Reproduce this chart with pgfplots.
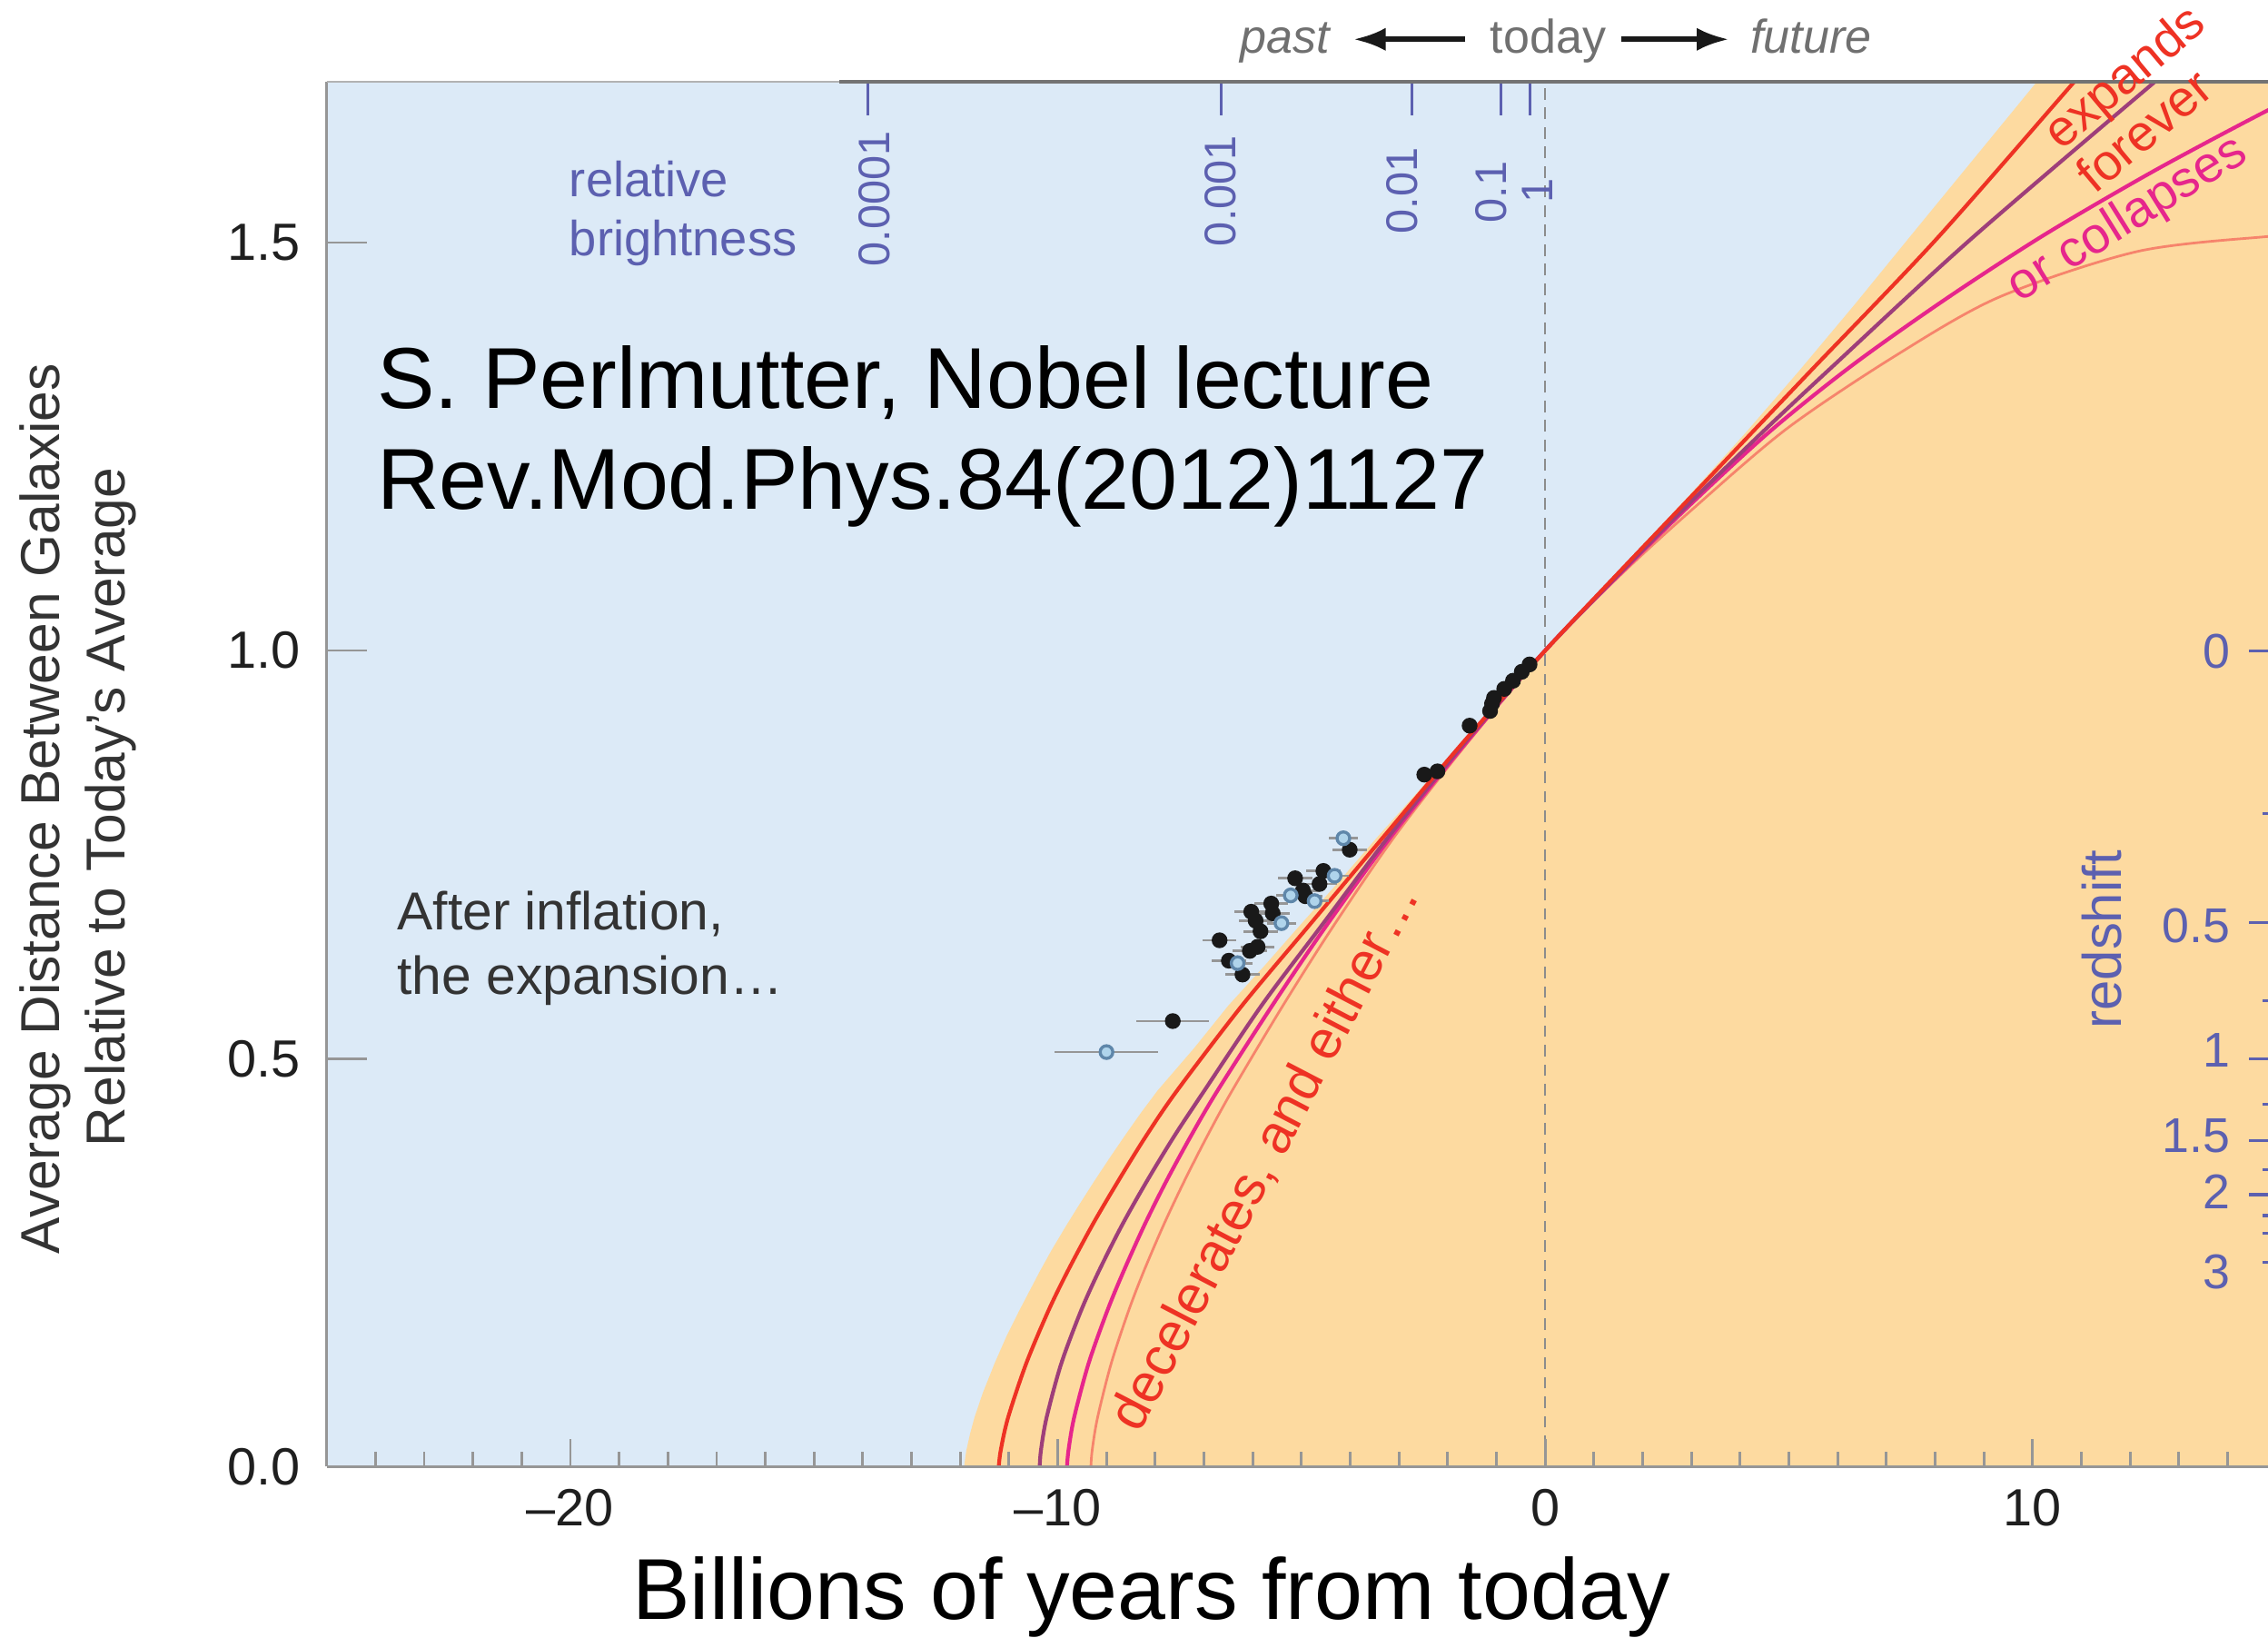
\documentclass[border=0pt]{standalone}
\usepackage{pgfplots}
\pgfplotsset{compat=1.18}
\usepackage{fontspec}
\setmainfont{Liberation Sans}
\usetikzlibrary{arrows.meta}
\definecolor{bgblue}{RGB}{220,234,247}
\definecolor{sand}{RGB}{253,218,160}
\definecolor{cred}{RGB}{238,50,36}
\definecolor{cpurple}{RGB}{158,62,122}
\definecolor{cmagenta}{RGB}{230,38,140}
\definecolor{csalmon}{RGB}{246,132,108}
\definecolor{bblue}{RGB}{92,96,176}
\definecolor{agray}{RGB}{150,150,150}
\definecolor{tgray}{RGB}{112,112,112}
\definecolor{openfill}{RGB}{175,212,235}
\definecolor{openedge}{RGB}{95,135,170}
\newcommand{\fs}[1]{\fontsize{#1}{#1}\selectfont}
\begin{document}
\begin{tikzpicture}
\useasboundingbox (0,0) rectangle (156.8mm,113.2mm);
\begin{axis}[
  name=ax,
  at={(22.58mm,11.82mm)}, anchor=south west,
  scale only axis, width=134.22mm, height=95.73mm,
  xmin=-25, xmax=14.83, ymin=0, ymax=1.697,
  axis line style={draw=none},
  axis background/.style={fill=bgblue},
  axis on top,
  xtick={-20,-10,0,10}, xticklabels={–20,–10,0,10},
  minor xtick={-24,-23,...,14},
  ytick={0,0.5,1,1.5}, yticklabels={0.0,0.5,1.0,1.5},
  tick align=inside, xtick pos=bottom, ytick pos=left,
  major tick length=1.9mm, minor tick length=1.05mm,
  ytick style={/pgfplots/major tick length=2.77mm},
  tick style={agray, line width=0.5pt},
  ticklabel style={font=\fs{10.3}, text=black!88},
  xticklabel shift=0.3mm,
  yticklabel shift=0.6mm,
]
% orange region
\addplot[fill=sand, draw=none] coordinates {
(-11.92,0) (-11.90,0.01) (-11.875,0.02) (-11.80,0.04) (-11.71,0.06) (-11.54,0.09) (-11.30,0.126)
(-11.05,0.16) (-10.80,0.19) (-10.38,0.238) (-10.13,0.265) (-9.83,0.295) (-9.57,0.32) (-9.26,0.349)
(-8.95,0.377) (-8.63,0.405) (-8.30,0.433) (-7.95,0.461) (-7.2,0.513) (-6.5,0.565) (-5.77,0.613)
(-5.05,0.662) (-4.23,0.717) (-3.42,0.773) (-2.58,0.829) (-1.76,0.885) (-0.87,0.942) (0,1)
(1.5,1.097) (3.0,1.193) (4.1,1.266) (5.2,1.342) (6.35,1.424) (7.51,1.509) (8.8,1.603)
(10.13,1.7) (10.6,1.735) (16,1.8) (16,0)} \closedcycle;
% dashed today line
\draw[black!45, line width=0.45pt, dash pattern=on 0.8mm off 0.55mm] (axis cs:0,0) -- (axis cs:0,1.697);
% curves
\addplot[csalmon, line width=0.5pt, smooth] coordinates {
(-9.32,0) (-9.294,0.02) (-9.184,0.06) (-8.906,0.126) (-8.553,0.19) (-8.245,0.238) (-7.837,0.295)
(-7.411,0.349) (-6.934,0.405) (-6.42,0.461) (-5.38,0.565) (-4.35,0.662) (-3.08,0.773) (-1.62,0.885) (0,1)
(1.5,1.09) (3.0,1.172) (4.96,1.272) (7.18,1.361) (9.31,1.433) (12.15,1.489) (14.76,1.507) (15.5,1.508)};
\addplot[cmagenta, line width=0.75pt, smooth] coordinates {
(-9.81,0) (-9.78,0.02) (-9.665,0.06) (-9.37,0.126) (-8.99,0.19) (-8.66,0.238) (-8.23,0.295)
(-7.78,0.349) (-7.27,0.405) (-6.72,0.461) (-5.6,0.565) (-4.5,0.662) (-3.15,0.773) (-1.65,0.885) (0,1)
(1.5,1.092) (3.0,1.18) (4.64,1.27) (6.31,1.35) (8.2,1.43) (10.23,1.509) (12.5,1.588) (14.76,1.66) (15.5,1.68)};
\addplot[cpurple, line width=0.75pt, smooth] coordinates {
(-10.37,0) (-10.345,0.02) (-10.23,0.06) (-9.93,0.126) (-9.53,0.19) (-9.17,0.238) (-8.69,0.295)
(-8.18,0.349) (-7.61,0.405) (-6.99,0.461) (-5.82,0.565) (-4.6,0.662) (-3.2,0.773) (-1.68,0.885) (0,1)
(1.5,1.093) (3.0,1.183) (4.5,1.27) (5.93,1.35) (8.75,1.505) (12.57,1.7) (13.2,1.73)};
\addplot[cred, line width=0.75pt, smooth] coordinates {
(-11.21,0) (-11.17,0.02) (-11.02,0.06) (-10.65,0.126) (-10.2,0.19) (-9.81,0.238) (-9.30,0.295)
(-8.77,0.349) (-8.19,0.405) (-7.55,0.461) (-6.22,0.565) (-4.86,0.662) (-3.3,0.773) (-1.72,0.885) (0,1)
(1.5,1.095) (3.0,1.189) (4.32,1.272) (5.5,1.346) (8.04,1.505) (10.9,1.7) (11.5,1.74)};
% data points
\addplot[only marks, mark=*, mark size=1.35pt, mark options={fill=black!90, draw=black!90},
  error bars/.cd, x dir=both, x explicit, error mark=none,
  error bar style={agray, line width=0.5pt}] coordinates {
(-4.01,0.756) +- (0.35,0) (-4.55,0.730) +- (0.35,0) (-4.63,0.714) +- (0.35,0)
(-5.13,0.721) +- (0.35,0) (-4.97,0.706) +- (0.35,0) (-4.92,0.699) +- (0.35,0)
(-5.62,0.690) +- (0.35,0) (-5.59,0.678) +- (0.35,0) (-6.03,0.680) +- (0.35,0)
(-5.94,0.669) +- (0.35,0) (-5.84,0.656) +- (0.35,0) (-6.68,0.645) +- (0.35,0)
(-5.90,0.637) +- (0.35,0) (-6.06,0.632) +- (0.35,0) (-6.49,0.620) +- (0.35,0)
(-6.21,0.603) +- (0.35,0) (-7.64,0.546) +- (0.74,0)};
\addplot[only marks, mark=*, mark size=1.25pt, mark options={fill=openfill, draw=openedge, line width=0.6pt},
  error bars/.cd, x dir=both, x explicit, error mark=none,
  error bar style={agray, line width=0.5pt}] coordinates {
(-4.14,0.770) +- (0.3,0) (-4.32,0.724) +- (0.3,0) (-5.22,0.700) +- (0.3,0)
(-4.73,0.693) +- (0.3,0) (-5.41,0.666) +- (0.3,0) (-6.31,0.617) +- (0.3,0)
(-9.0,0.508) +- (1.06,0)};
\addplot[only marks, mark=*, mark size=1.35pt, mark options={fill=black!90, draw=black!90}] coordinates {
(-0.32,0.983) (-0.48,0.974) (-0.66,0.963) (-0.84,0.953) (-1.05,0.942) (-1.09,0.935)
(-1.13,0.926) (-1.55,0.908) (-2.21,0.852) (-2.48,0.848)};
% brightness ticks
\foreach \bx in {-13.89,-6.64,-2.73,-0.91,-0.31} {
  \edef\tmp{\noexpand\draw[bblue, line width=0.55pt] (axis cs:\bx,1.697) -- (axis cs:\bx,1.656);}\tmp
}
% redshift ticks
\foreach \ry in {1,0.6667,0.5,0.4,0.3333} {
  \edef\tmp{\noexpand\draw[bblue, line width=0.55pt] (axis cs:14.44,\ry) -- (axis cs:15,\ry);}\tmp
}
\foreach \ry in {0.8,0.5714,0.4444,0.3636,0.3077,0.2857,0.25} {
  \edef\tmp{\noexpand\draw[bblue, line width=0.55pt] (axis cs:14.72,\ry) -- (axis cs:15,\ry);}\tmp
}
\end{axis}
% frame lines
\draw[agray, line width=0.5pt] (ax.south west) -- (ax.north west);
\draw[agray, line width=0.6pt] (ax.south west) -- (ax.south east);
\draw[black!30, line width=0.5pt] (ax.north west) -- (ax.north east);
\draw[black!55, line width=0.7pt] (58mm,0|-ax.north west) -- (ax.north east);
\begin{scope}[shift={(0,113.2mm)}, x=0.1mm, y=-0.1mm]
\node[anchor=base west, inner sep=0, font=\fs{17}] at (260,282) {S. Perlmutter, Nobel lecture};
\node[anchor=base west, inner sep=0, font=\fs{17}] at (260,352) {Rev.Mod.Phys.84(2012)1127};
\node[anchor=base, inner sep=0, font=\fs{17}] at (796,1119.6) {Billions of years from today};
\node[rotate=90, anchor=base, inner sep=0, font=\fs{10.8}, text=black!80] at (41.4,559) {Average Distance Between Galaxies};
\node[rotate=90, anchor=base, inner sep=0, font=\fs{10.8}, text=black!80] at (86.5,558) {Relative to Today’s Average};
\node[anchor=base west, inner sep=0, font=\fs{10.5}, text=black!80] at (274,642.8) {After inflation,};
\node[anchor=base west, inner sep=0, font=\fs{10.5}, text=black!80] at (274,687.6) {the expansion…};
\node[anchor=base west, inner sep=0, font=\fs{9.7}, text=bblue] at (393,136) {relative};
\node[anchor=base west, inner sep=0, font=\fs{9.7}, text=bblue] at (393,177) {brightness};
\node[rotate=90, anchor=east, inner sep=0, font=\fs{8.7}, text=bblue] at (604.3,90) {0.0001};
\node[rotate=90, anchor=east, inner sep=0, font=\fs{8.7}, text=bblue] at (843.6,93) {0.001};
\node[rotate=90, anchor=east, inner sep=0, font=\fs{8.7}, text=bblue] at (969.5,101.5) {0.01};
\node[rotate=90, anchor=east, inner sep=0, font=\fs{8.7}, text=bblue] at (1030.8,111) {0.1};
\node[rotate=90, anchor=east, inner sep=0, font=\fs{8.7}, text=bblue] at (1063,122.5) {1};
\node[rotate=90, inner sep=0, font=\fs{10.7}, text=bblue] at (1453,649.5) {redshift};
\node[anchor=east, inner sep=0, font=\fs{9.6}, text=bblue] at (1542.6,450) {0};
\node[anchor=east, inner sep=0, font=\fs{9.6}, text=bblue] at (1542.6,640) {0.5};
\node[anchor=east, inner sep=0, font=\fs{9.6}, text=bblue] at (1542.6,726) {1};
\node[anchor=east, inner sep=0, font=\fs{9.6}, text=bblue] at (1542.6,785) {1.5};
\node[anchor=east, inner sep=0, font=\fs{9.6}, text=bblue] at (1542.6,823.5) {2};
\node[anchor=east, inner sep=0, font=\fs{9.6}, text=bblue] at (1542.6,879) {3};
\node[anchor=base west, inner sep=0, font=\fs{9.3}\itshape, text=tgray] at (857,36.6) {past};
\node[anchor=base west, inner sep=0, font=\fs{9.3}, text=tgray] at (1029.6,36.6) {today};
\node[anchor=base west, inner sep=0, font=\fs{9.3}\itshape, text=tgray] at (1209.5,36.6) {future};
\draw[-{Latex[length=2.2mm,width=1.6mm]}, line width=1pt, black!90] (1013,27.2) -- (936,27.2);
\draw[-{Latex[length=2.2mm,width=1.6mm]}, line width=1pt, black!90] (1120.7,27.2) -- (1195,27.2);
\node[rotate=62.5, inner sep=0, font=\fs{10.7}, text=cred] at (875,800) {decelerates, and either\ldots};
\node[rotate=40, inner sep=0, font=\fs{10}, text=cred] at (1470,55) {expands};
\node[rotate=40, inner sep=0, font=\fs{10}, text=cred] at (1482,90) {forever};
\node[rotate=32, inner sep=0, font=\fs{10}, text=cmagenta] at (1471,152) {or collapses};
\end{scope}
\end{tikzpicture}
\end{document}
